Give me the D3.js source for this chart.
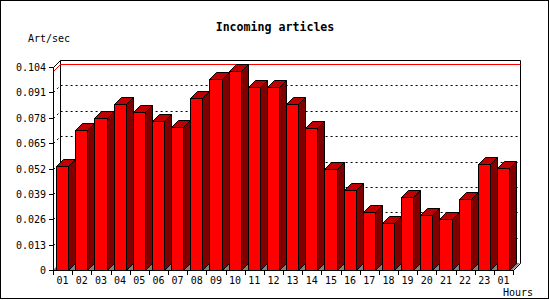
<!DOCTYPE html>
<html><head><meta charset="utf-8">
<script src="https://cdn.jsdelivr.net/npm/d3@7"></script>
<style>html,body{margin:0;padding:0;background:#fff;}svg{display:block;}</style>
</head><body>
<svg id="c" width="550" height="300"></svg>
<script>
const hours = ["01","02","03","04","05","06","07","08","09","10","11","12","13","14","15","16","17","18","19","20","21","22","23","01"];
const values = [0.0533,0.0717,0.0777,0.0850,0.0808,0.0763,0.0731,0.0883,0.0977,0.1018,0.0936,0.0936,0.0849,0.0726,0.0516,0.0408,0.0299,0.0239,0.0372,0.0280,0.0260,0.0362,0.0543,0.0523];
const yTicks = [0,0.013,0.026,0.039,0.052,0.065,0.078,0.091,0.104];
const yTickLabels = ["0","0.013","0.026","0.039","0.052","0.065","0.078","0.091","0.104"];
const title = "Incoming articles";
const yTitle = "Art/sec";
const xTitle = "Hours";

const svg = d3.select("#c");
const L = 53, R = 513, B = 270, T = 67, D = 7;
const x = d3.scaleBand().domain(d3.range(hours.length)).range([L, R]).padding(0);
const y = d3.scaleLinear().domain([0, 0.104]).range([B, T]);
const bw = x.bandwidth();
const r = v => Math.round(v);
const font = "'DejaVu Sans Mono', monospace";

svg.append("rect").attr("x",0).attr("y",0).attr("width",550).attr("height",300).attr("fill","#fff");
svg.append("rect").attr("x",0.5).attr("y",0.5).attr("width",548).attr("height",298)
  .attr("fill","none").attr("stroke","#000");

// floor
svg.append("path").attr("d",`M${L},${B}L${L+D},${B-D}L${R+D},${B-D}L${R},${B}Z`).attr("fill","#808080");

// gridlines (dotted, back plane)
yTicks.slice(1,-1).forEach(t => {
  const yy = r(y(t)) + 0.5;
  svg.append("path").attr("d",`M${L+0.5},${yy}L${L+D+0.5},${yy-D}L${R+D+0.5},${yy-D}`)
    .attr("fill","none").attr("stroke","#000").attr("stroke-dasharray","2,3");
});

// back frame
const bf = svg.append("g").attr("fill","none").attr("stroke","#000");
bf.append("path").attr("d",`M${L+0.5},${r(T)+0.5}L${L+D+0.5},${r(T)-D+0.5}L${R+D+0.5},${r(T)-D+0.5}L${R+D+0.5},${B-D+0.5}L${R+0.5},${B+0.5}`);
bf.append("path").attr("d",`M${L+D+0.5},${r(T)-D+0.5}L${L+D+0.5},${B-D+0.5}`);

// max line (red)
const ym = r(y(d3.max(values))) + 0.5;
svg.append("path").attr("d",`M${L+0.5},${ym}L${L+D+0.5},${ym-D}L${R+D+0.5},${ym-D}`)
  .attr("fill","none").attr("stroke","#ff0000");

// bars
const bars = svg.append("g").attr("stroke","#000").attr("stroke-linejoin","miter");
values.forEach((v,i) => {
  const xl = r(x(i)+3)+0.5, xr = r(x(i)+bw-4)+0.5, yt = r(y(v))+0.5, yb = B+0.5;
  bars.append("path").attr("d",`M${xr},${yt}L${xr+D},${yt-D}L${xr+D},${yb-D}L${xr},${yb}Z`).attr("fill","#800000");
  bars.append("path").attr("d",`M${xl},${yt}L${xl+D},${yt-D}L${xr+D},${yt-D}L${xr},${yt}Z`).attr("fill","#c00000");
  bars.append("rect").attr("x",xl).attr("y",yt).attr("width",xr-xl).attr("height",yb-yt).attr("fill","#ff0000");
});

// front axes
const ax = svg.append("g").attr("stroke","#000").attr("fill","none");
ax.append("path").attr("d",`M${L+0.5},${r(T)+0.5}L${L+0.5},${B+0.5}L${R+0.5},${B+0.5}`);
yTicks.forEach(t => {
  const yy = r(y(t))+0.5;
  ax.append("path").attr("d",`M${L-4},${yy}L${L+0.5},${yy}`);
});
d3.range(hours.length+1).forEach(i => {
  const xx = r(i < hours.length ? x(i) : R) + 0.5;
  ax.append("path").attr("d",`M${xx},${B}L${xx},${B+5}`);
});

// labels
svg.append("text").attr("x",275).attr("y",31).attr("text-anchor","middle")
  .attr("font-family",font).attr("font-weight","bold").attr("font-size","11.6px").text(title);
svg.append("text").attr("x",28).attr("y",42).attr("font-family",font).attr("font-size","10px").text(yTitle);
svg.selectAll("text.yl").data(yTicks).enter().append("text").attr("class","yl")
  .attr("x",46).attr("y",t => r(y(t))+3.5).attr("text-anchor","end")
  .attr("font-family",font).attr("font-size","10px").text((t,i) => yTickLabels[i]);
svg.selectAll("text.xl").data(hours).enter().append("text").attr("class","xl")
  .attr("x",(h,i) => x(i)+bw/2).attr("y",284).attr("text-anchor","middle")
  .attr("font-family",font).attr("font-size","10px").text(h => h);
svg.append("text").attr("x",503).attr("y",296).attr("font-family",font).attr("font-size","10px").text(xTitle);
</script>
</body></html>
